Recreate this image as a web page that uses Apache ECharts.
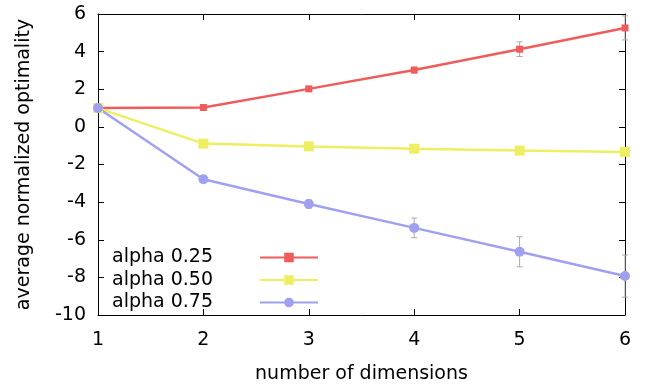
<!DOCTYPE html>
<html>
<head>
<meta charset="utf-8">
<script src="https://cdn.jsdelivr.net/npm/echarts@6/dist/echarts.min.js"></script>
<style>
  html, body { margin: 0; padding: 0; background: #fff; }
  #chart { width: 654px; height: 389px; }
</style>
</head>
<body>
<div id="chart"></div>
<script>
// number of dimensions
const dims = [1, 2, 3, 4, 5, 6];
const seriesNames = ['alpha 0.25', 'alpha 0.50', 'alpha 0.75'];
// average normalized optimality per series
const alpha25 = [1.0, 1.03, 2.02, 3.02, 4.13, 5.26];
const alpha50 = [1.0, -0.89, -1.04, -1.16, -1.26, -1.33];
const alpha75 = [1.0, -2.78, -4.1, -5.37, -6.64, -7.93];
// error (half-length of bars)
const err25 = [0, 0.04, 0.08, 0.15, 0.39, 0.64];
const err50 = [0, 0.05, 0.05, 0.05, 0.05, 0.05];
const err75 = [0, 0.05, 0.22, 0.52, 0.8, 1.12];

const colors = ['#f05b5b', '#eeee62', '#a0a0f0'];
const font = 'DejaVu Sans, sans-serif';
const fs = 19;

const chart = echarts.init(document.getElementById('chart'));

function errData(vals, errs) {
  return dims.map((d, i) => [d, vals[i] - errs[i], vals[i] + errs[i]]);
}

function errSeries(vals, errs) {
  return {
    type: 'custom',
    silent: true,
    z: 1,
    data: errData(vals, errs),
    encode: { x: 0, y: [1, 2] },
    renderItem: function (params, api) {
      const lo = api.coord([api.value(0), api.value(1)]);
      const hi = api.coord([api.value(0), api.value(2)]);
      const w = 3;
      const style = { stroke: '#aaaaaa', lineWidth: 1 };
      return {
        type: 'group',
        children: [
          { type: 'line', shape: { x1: lo[0], y1: lo[1], x2: hi[0], y2: hi[1] }, style },
          { type: 'line', shape: { x1: lo[0] - w, y1: lo[1], x2: lo[0] + w, y2: lo[1] }, style },
          { type: 'line', shape: { x1: hi[0] - w, y1: hi[1], x2: hi[0] + w, y2: hi[1] }, style }
        ]
      };
    }
  };
}

function lineSeries(name, vals, color, symbol, size) {
  return {
    name: name,
    type: 'line',
    z: 3,
    data: dims.map((d, i) => [d, vals[i]]),
    symbol: symbol,
    symbolSize: size,
    showSymbol: true,
    lineStyle: { color: color, width: 2.5 },
    itemStyle: { color: color },
    emphasis: { disabled: true }
  };
}

const axisLine = { show: true, onZero: false, lineStyle: { color: '#000', width: 1 } };
const tickIn = { show: true, inside: true, length: 6, lineStyle: { color: '#000' } };

const option = {
  animation: false,
  grid: { left: 98, right: 29, top: 14, bottom: 72 },
  legend: {
    orient: 'vertical',
    left: 107,
    top: 243,
    align: 'right',
    itemWidth: 58,
    itemHeight: 12,
    itemGap: 3.5,
    data: seriesNames,
    formatter: name => '{t|' + name + '}',
    textStyle: {
      fontFamily: font, fontSize: fs, color: '#000',
      rich: { t: { fontFamily: font, fontSize: fs, color: '#000', width: 143, align: 'left', lineHeight: 22 } }
    }
  },
  xAxis: [
    {
      type: 'value', min: 1, max: 6, interval: 1,
      name: 'number of dimensions', nameLocation: 'middle', nameGap: 50,
      nameTextStyle: { fontFamily: font, fontSize: fs, color: '#000' },
      axisLine: axisLine, axisTick: tickIn, splitLine: { show: false },
      axisLabel: { fontFamily: font, fontSize: fs, color: '#000', margin: 16 }
    },
    {
      type: 'value', min: 1, max: 6, interval: 1, position: 'top',
      axisLine: axisLine, axisTick: tickIn, splitLine: { show: false },
      axisLabel: { show: false }
    }
  ],
  yAxis: [
    {
      type: 'value', min: -10, max: 6, interval: 2,
      name: 'average normalized optimality', nameLocation: 'middle', nameGap: 64,
      nameTextStyle: { fontFamily: font, fontSize: fs, color: '#000' },
      axisLine: axisLine, axisTick: tickIn, splitLine: { show: false },
      axisLabel: { fontFamily: font, fontSize: fs, color: '#000', margin: 12 }
    },
    {
      type: 'value', min: -10, max: 6, interval: 2, position: 'right',
      axisLine: axisLine, axisTick: tickIn, splitLine: { show: false },
      axisLabel: { show: false }
    }
  ],
  series: [
    errSeries(alpha25, err25),
    errSeries(alpha50, err50),
    errSeries(alpha75, err75),
    lineSeries(seriesNames[0], alpha25, colors[0], 'rect', 7),
    lineSeries(seriesNames[1], alpha50, colors[1], 'rect', 10),
    lineSeries(seriesNames[2], alpha75, colors[2], 'circle', 10)
  ]
};

chart.setOption(option);
</script>
</body>
</html>
